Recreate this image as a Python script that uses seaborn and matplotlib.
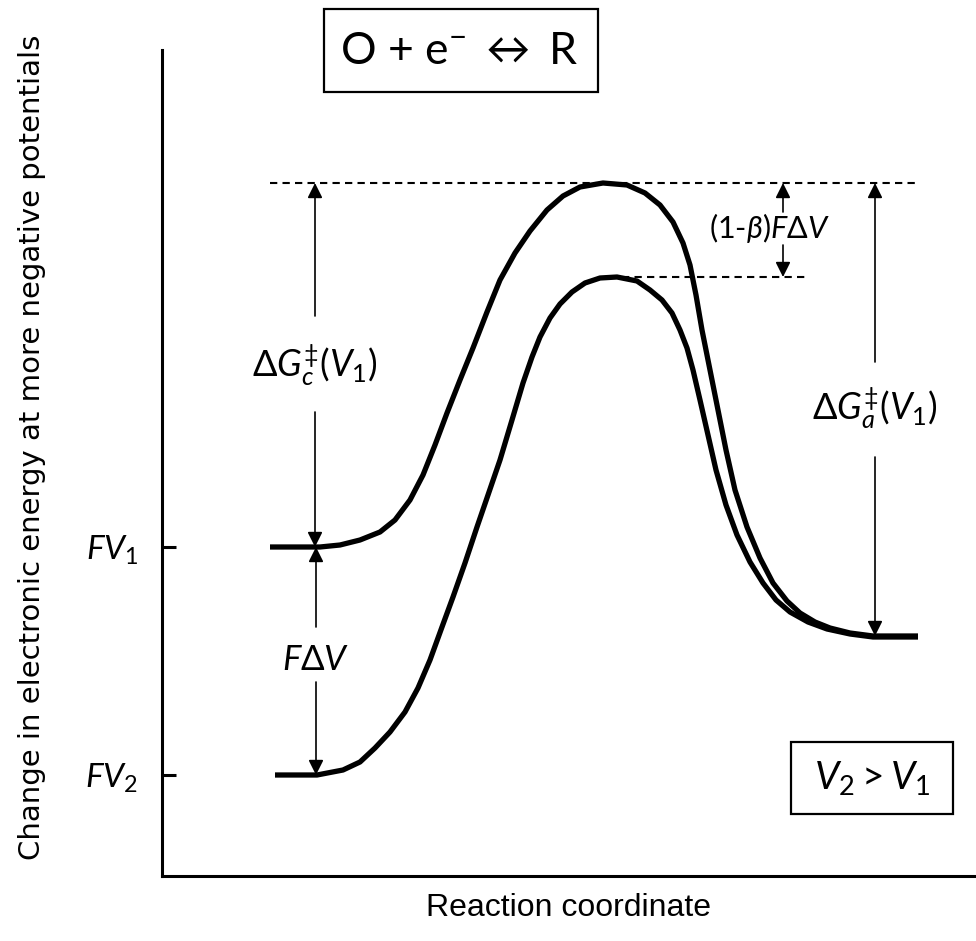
import numpy as np
import pandas as pd
import matplotlib
matplotlib.use("Agg")
import matplotlib.pyplot as plt
from matplotlib.patches import Rectangle
import seaborn as sns

# ---------------- data ----------------
# reaction coordinate (arbitrary units) and energy (arbitrary units)
rc_v1 = [1.08, 1.38, 1.58, 1.78, 1.98, 2.18, 2.33, 2.48, 2.61, 2.73, 2.85, 2.98,
         3.11, 3.25, 3.38, 3.53, 3.68, 3.85, 4.01, 4.18, 4.41,
         4.65, 4.83, 4.98, 5.11, 5.21, 5.28, 5.34, 5.40, 5.48, 5.56, 5.64, 5.73,
         5.85, 5.98, 6.11, 6.25, 6.38, 6.53, 6.68, 6.88, 7.11, 7.56]
en_v1 = [3.29, 3.29, 3.29, 3.31, 3.36, 3.44, 3.56, 3.76, 4.01, 4.31, 4.63, 4.96,
         5.28, 5.64, 5.96, 6.23, 6.45, 6.66, 6.80, 6.89, 6.93,
         6.91, 6.83, 6.71, 6.54, 6.33, 6.11, 5.81, 5.46, 5.06, 4.66, 4.26, 3.86,
         3.49, 3.18, 2.93, 2.75, 2.63, 2.54, 2.48, 2.43, 2.40, 2.40]
rc_v2 = [1.13, 1.55, 1.81, 1.98, 2.13, 2.28, 2.43, 2.56, 2.68, 2.80, 2.91, 3.03,
         3.15, 3.26, 3.38, 3.50, 3.61, 3.70, 3.78, 3.88, 3.98, 4.10, 4.23, 4.38,
         4.55, 4.75, 4.88, 5.00, 5.10, 5.18, 5.25, 5.31, 5.38, 5.46, 5.54, 5.64,
         5.75, 5.88, 6.01, 6.14, 6.28, 6.46, 6.65, 6.88, 7.11, 7.56]
en_v2 = [1.01, 1.01, 1.06, 1.14, 1.28, 1.44, 1.64, 1.88, 2.16, 2.49, 2.79, 3.13,
         3.49, 3.81, 4.16, 4.56, 4.93, 5.19, 5.39, 5.58, 5.72, 5.84, 5.93, 5.98,
         5.99, 5.95, 5.86, 5.76, 5.63, 5.46, 5.28, 5.06, 4.76, 4.41, 4.06, 3.71,
         3.41, 3.14, 2.93, 2.76, 2.64, 2.54, 2.47, 2.42, 2.39, 2.39]

FV1 = 3.29
FV2 = 1.01
peak_v1 = 6.93
peak_v2 = 5.99
final_R = 2.40

tick_values = [FV1, FV2]
tick_labels = [r"$FV_1$", r"$FV_2$"]

xlabel = "Reaction coordinate"
ylabel = "Change in electronic energy at more negative potentials"
reaction_text = r"O + e$^{-}$ $\leftrightarrow$ R"
condition_text = r"$V_2 > V_1$"

# ---------------- style ----------------
sns.set_theme(style="white")
plt.rcParams["font.family"] = ["Lato", "DejaVu Sans"]
plt.rcParams["mathtext.fontset"] = "custom"
plt.rcParams["mathtext.rm"] = "Lato"
plt.rcParams["mathtext.it"] = "Lato:italic"
plt.rcParams["mathtext.bf"] = "Lato:bold"
plt.rcParams["mathtext.sf"] = "Lato"
plt.rcParams["mathtext.fallback"] = "stixsans"
plt.rcParams["text.color"] = "black"
plt.rcParams["axes.labelcolor"] = "black"
plt.rcParams["xtick.color"] = "black"
plt.rcParams["ytick.color"] = "black"

fig = plt.figure(figsize=(9.76, 9.41), dpi=100)
ax = fig.add_axes([162/976, 65/941, 814/976, 826/941])

df = pd.concat([
    pd.DataFrame({"rc": rc_v1, "E": en_v1, "curve": "V1"}),
    pd.DataFrame({"rc": rc_v2, "E": en_v2, "curve": "V2"}),
])
sns.lineplot(data=df, x="rc", y="E", hue="curve", palette=["black", "black"],
             sort=False, estimator=None, legend=False, ax=ax, lw=3.8,
             solid_joinstyle="round", solid_capstyle="butt")

ax.set_xlim(0, 8.14)
ax.set_ylim(0, 8.26)

# dashed reference levels
ax.plot([rc_v1[0], rc_v1[-1]], [peak_v1, peak_v1], color="black", lw=1.5,
        ls=(0, (3.5, 2.5)))
ax.plot([4.60, 6.46], [peak_v2, peak_v2], color="black", lw=1.5,
        ls=(0, (3.5, 2.5)))

arrowprops = dict(arrowstyle="-|>,head_length=0.6,head_width=0.3", color="black",
                  lw=1.2, shrinkA=0, shrinkB=0, mutation_scale=15)


def gap_arrow(x, lo, hi, label, ly, gap_lo, gap_hi, lx=None, size=22):
    ax.annotate("", xy=(x, hi), xytext=(x, gap_hi), arrowprops=arrowprops)
    ax.annotate("", xy=(x, lo), xytext=(x, gap_lo), arrowprops=arrowprops)
    ax.text(x if lx is None else lx, ly, label, ha="center", va="center",
            fontsize=size, color="black")


gap_arrow(1.53, FV1, peak_v1, r"$\Delta G_c^{\ddagger}(V_1)$", 5.11, 4.64, 5.60,
          size=26)
gap_arrow(1.54, FV2, FV1, r"$F\Delta V$", 2.16, 1.94, 2.49, size=25)
gap_arrow(7.13, final_R, peak_v1, r"$\Delta G_a^{\ddagger}(V_1)$", 4.68, 4.19, 5.14,
          size=26)
gap_arrow(6.21, peak_v2, peak_v1, r"(1-$\beta$)$F\Delta V$", 6.48, 6.31, 6.64,
          lx=6.07, size=22)

# axes styling
for s in ["top", "right"]:
    ax.spines[s].set_visible(False)
for s in ["left", "bottom"]:
    ax.spines[s].set_linewidth(2.2)
    ax.spines[s].set_color("black")
ax.set_xticks([])
ax.set_yticks(tick_values)
ax.set_yticklabels(tick_labels, fontsize=24)
ax.tick_params(axis="y", direction="in", length=10, width=2.2, pad=17, left=True,
               colors="black")

ax.set_xlabel(xlabel, fontsize=23, family="Liberation Sans", color="black")
ax.xaxis.set_label_coords(0.5, -0.02)
ax.set_ylabel(ylabel, fontsize=21, family="DejaVu Sans", color="black")
ax.yaxis.set_label_coords(-0.142, 0.519)

# boxes
fig.patches.append(Rectangle((324/976, 1 - 92/941), 274/976, 83/941,
                             transform=fig.transFigure, fill=False,
                             edgecolor="black", lw=1.6))
fig.text(459/976, 1 - 51/941, reaction_text, ha="center", va="center",
         fontsize=32, color="black")
fig.patches.append(Rectangle((791/976, 1 - 814/941), 162/976, 72/941,
                             transform=fig.transFigure, fill=False,
                             edgecolor="black", lw=1.6))
fig.text(872/976, 1 - 778/941, condition_text, ha="center", va="center",
         fontsize=28, color="black")

fig.savefig("out.png", dpi=100)
